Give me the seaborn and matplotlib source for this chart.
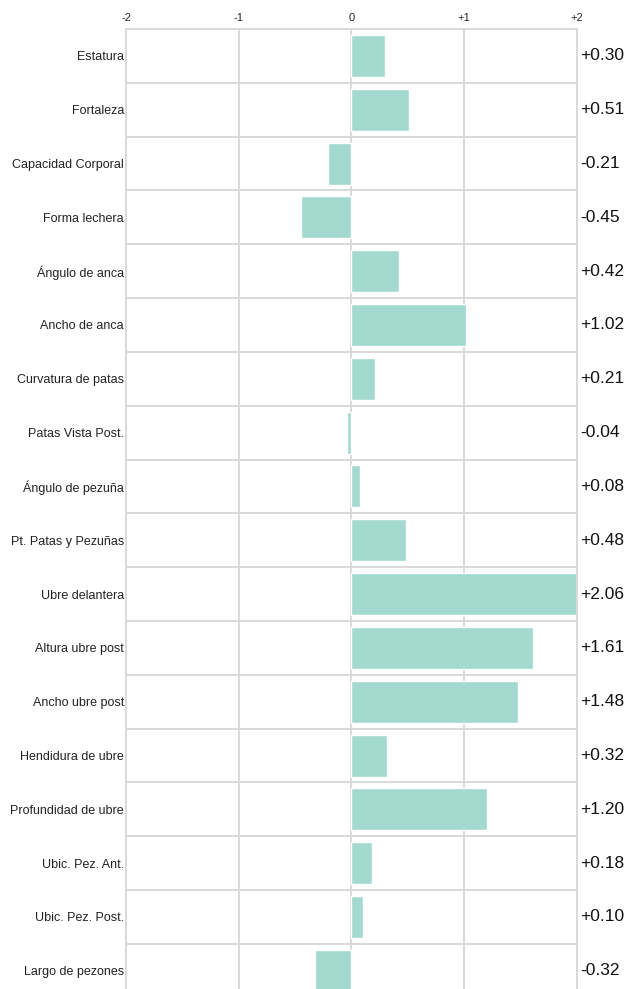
import matplotlib
matplotlib.use("Agg")
import matplotlib.pyplot as plt
import matplotlib.transforms as mtransforms
import seaborn as sns
import pandas as pd

# rasgos lineales de tipo (categorias, de arriba hacia abajo)
rasgos = [
    "Estatura", "Fortaleza", "Capacidad Corporal", "Forma lechera",
    "Ángulo de anca", "Ancho de anca", "Curvatura de patas",
    "Patas Vista Post.", "Ángulo de pezuña", "Pt. Patas y Pezuñas",
    "Ubre delantera", "Altura ubre post", "Ancho ubre post",
    "Hendidura de ubre", "Profundidad de ubre", "Ubic. Pez. Ant.",
    "Ubic. Pez. Post.", "Largo de pezones",
]
valores = [0.30, 0.51, -0.21, -0.45, 0.42, 1.02, 0.21, -0.04, 0.08, 0.48,
           2.06, 1.61, 1.48, 0.32, 1.20, 0.18, 0.10, -0.32]
ticks = [-2, -1, 0, 1, 2]
tick_labels = ["-2", "-1", "0", "+1", "+2"]

df = pd.DataFrame({"rasgo": rasgos, "valor": valores})

sns.set_style("white")
plt.rcParams["font.family"] = ["Liberation Sans", "DejaVu Sans"]

fig = plt.figure(figsize=(6.27, 9.89), dpi=100)
ax = fig.add_axes([0.201, -0.0088, 0.719, 0.9795])

sns.barplot(data=df, x="valor", y="rasgo", orient="h", color="#a3d9ce",
            saturation=1, width=0.78, ax=ax)

ax.set_xlim(-2, 2)
ax.set_ylim(len(rasgos) - 0.5, -0.5)
ax.set_xlabel("")
ax.set_ylabel("")

# eje x arriba
ax.xaxis.tick_top()
ax.set_xticks(ticks)
ax.set_xticklabels(tick_labels, fontsize=8, color="#222222")
ax.tick_params(axis="x", length=0, pad=4)
ax.tick_params(axis="y", length=0, pad=1.5, labelsize=9, labelcolor="#222222")

# lineas de grilla
grid_col = "#d9d9d9"
ax.set_yticks([i + 0.5 for i in range(len(rasgos) - 1)], minor=True)
ax.grid(axis="x", which="major", color=grid_col, linewidth=1.4)
ax.grid(axis="y", which="minor", color=grid_col, linewidth=1.4)
ax.tick_params(axis="y", which="minor", length=0)
ax.set_axisbelow(True)
for s in ax.spines.values():
    s.set_color(grid_col)
    s.set_linewidth(1.4)
ax.spines["bottom"].set_visible(False)

# valores a la derecha
trans = mtransforms.blended_transform_factory(ax.transAxes, ax.transData)
for i, v in enumerate(valores):
    ax.text(1.008, i, f"{v:+.2f}", transform=trans, ha="left", va="center",
            fontsize=12.5, color="#111111")

fig.savefig("out.png", dpi=100)
